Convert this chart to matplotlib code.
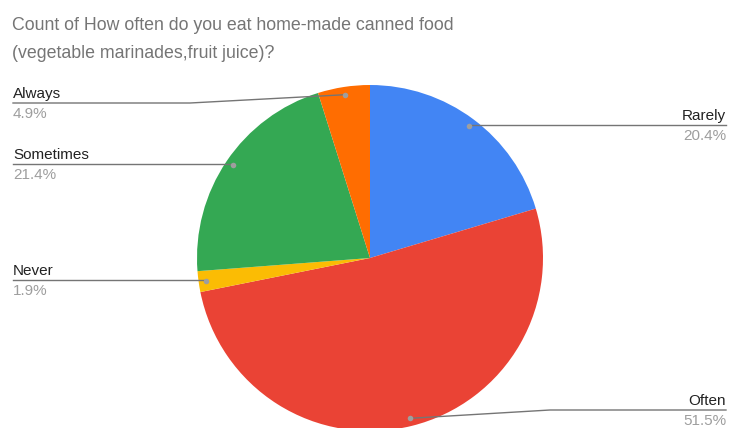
import numpy as np
import matplotlib.pyplot as plt

W, H = 736, 428

# survey answers, in pie order (clockwise from 12 o'clock)
answers = ["Rarely", "Often", "Never", "Sometimes", "Always"]
counts = [21, 53, 2, 22, 5]
colors = ["#4285F4", "#EA4335", "#FBBC04", "#34A853", "#FF6D01"]

title_lines = ["Count of How often do you eat home-made canned food",
               "(vegetable marinades,fruit juice)?"]

# label placement in pixels: (label line y, side, bend x)
label_layout = {
    "Rarely": (125, "right", None),
    "Often": (410, "right", 550),
    "Never": (280, "left", None),
    "Sometimes": (164, "left", None),
    "Always": (103, "left", 190),
}

CX, CY, R = 370, 258, 173
LINE_COLOR = "#757575"
DOT_COLOR = "#9e9e9e"


def Y(py):
    # pixel row -> data y
    return H - py


plt.rcParams["font.family"] = ["Liberation Sans", "DejaVu Sans"]

fig = plt.figure(figsize=(W / 100, H / 100), dpi=100)
ax = fig.add_axes([0, 0, 1, 1])

ax.pie(counts, colors=colors, startangle=90, counterclock=False,
       center=(CX, Y(CY)), radius=R, wedgeprops=dict(linewidth=0))
ax.set_xlim(0, W)
ax.set_ylim(0, H)
ax.set_aspect("equal")
ax.axis("off")

total = sum(counts)
cum = 0
for name, cnt in zip(answers, counts):
    mid = cum + cnt / 2
    cum += cnt
    ang = np.deg2rad(90 - 360 * mid / total)
    dx = CX + 0.955 * R * np.cos(ang)
    dy = CY - 0.955 * R * np.sin(ang)
    ly, side, bend = label_layout[name]
    pct = f"{100 * cnt / total:.1f}%"

    edge = 13 if side == "left" else 726
    if bend:
        xs, ys = [dx, bend, edge], [dy, ly, ly]
    else:
        xs, ys = [dx, edge], [ly, ly]
    ax.plot(xs, [Y(v) for v in ys], color=LINE_COLOR, lw=1.0, zorder=3)
    ax.plot([dx], [Y(dy)], "o", color=DOT_COLOR, ms=4, mec="none", zorder=4)

    ax.text(edge, Y(ly - 5), name, ha=side, va="baseline",
            fontsize=11, color="#222222")
    ax.text(edge, Y(ly + 15), pct, ha=side, va="baseline",
            fontsize=11, color="#9e9e9e")

for i, line in enumerate(title_lines):
    ax.text(12, Y(30 + 28 * i), line, ha="left", va="baseline",
            fontsize=12.8, color="#757575")

fig.savefig("out.png", dpi=100)
